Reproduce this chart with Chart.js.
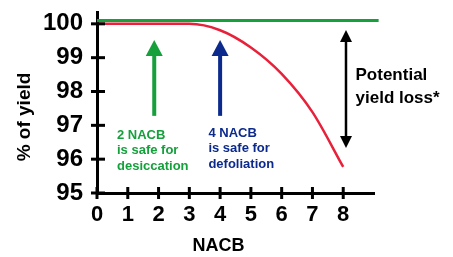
<!DOCTYPE html>
<html>
<head>
<meta charset="utf-8">
<script src="https://cdn.jsdelivr.net/npm/chart.js@4.4.1/dist/chart.umd.min.js"></script>
<style>
  html, body { margin: 0; padding: 0; background: #fff; }
  #wrap { width: 453px; height: 257px; }
</style>
</head>
<body>
<div id="wrap"><canvas id="yieldChart"></canvas></div>
<script>
// valores
const nacb = [0, 1, 2, 3, 4, 5, 6, 7, 8];
const redYield = [100, 100, 100, 100, 99.81, 99.3, 98.52, 97.39, 95.77];
const greenX = [0, 9.15];
const greenYield = [100.1, 100.1];

// flechas: posición x, desde, hasta
const arrowX = [1.86, 4, 8.09];
const arrowFrom = [97.28, 97.28, 96.33];
const arrowTo = [99.52, 99.52, 99.82];

const greenNote = ['2 NACB', 'is safe for', 'desiccation'];
const blueNote = ['4 NACB', 'is safe for', 'defoliation'];
const lossNote = ['Potential', 'yield loss*'];
const noteX = [0.65, 3.62, 8.4];
const noteY = [96.71, 96.77, 98.49];

const FONT = "'Liberation Sans', Arial, sans-serif";

const extras = {
    id: 'extras',
    afterDraw(chart) {
        const ctx = chart.ctx;
        const x = chart.scales.x, y = chart.scales.y;
        const area = chart.chartArea;
        ctx.save();

        // marcas de los ejes (cruzan la línea)
        ctx.strokeStyle = '#000';
        ctx.lineWidth = 3;
        y.ticks.forEach(t => {
            const py = y.getPixelForValue(t.value);
            ctx.beginPath();
            ctx.moveTo(area.left - 6, py);
            ctx.lineTo(area.left + 8, py);
            ctx.stroke();
        });
        x.ticks.forEach(t => {
            const px = x.getPixelForValue(t.value);
            ctx.beginPath();
            ctx.moveTo(px, area.bottom - 6);
            ctx.lineTo(px, area.bottom + 6);
            ctx.stroke();
        });

        // flechas
        const colors = ['#16a03c', '#0b2a8c', '#000'];
        const widths = [4, 4, 2.5];
        const heads = [[17, 16], [17, 16], [12, 12]];
        arrowX.forEach((v, i) => {
            const px = x.getPixelForValue(v);
            const p0 = y.getPixelForValue(arrowFrom[i]);
            const p1 = y.getPixelForValue(arrowTo[i]);
            const [hw, hh] = heads[i];
            ctx.strokeStyle = colors[i];
            ctx.fillStyle = colors[i];
            ctx.lineWidth = widths[i];
            const both = i === 2;
            ctx.beginPath();
            ctx.moveTo(px, both ? p0 - hh + 2 : p0);
            ctx.lineTo(px, p1 + hh - 2);
            ctx.stroke();
            ctx.beginPath();
            ctx.moveTo(px, p1);
            ctx.lineTo(px - hw / 2, p1 + hh);
            ctx.lineTo(px + hw / 2, p1 + hh);
            ctx.closePath();
            ctx.fill();
            if (both) {
                ctx.beginPath();
                ctx.moveTo(px, p0);
                ctx.lineTo(px - hw / 2, p0 - hh);
                ctx.lineTo(px + hw / 2, p0 - hh);
                ctx.closePath();
                ctx.fill();
            }
        });

        // textos
        ctx.textAlign = 'left';
        ctx.textBaseline = 'middle';
        const notes = [
            [greenNote, '#16a03c', 'bold 13px ' + FONT, 15.5],
            [blueNote, '#0b2a8c', 'bold 13px ' + FONT, 15.5],
            [lossNote, '#000', 'bold 17px ' + FONT, 23]
        ];
        notes.forEach(([lines, color, font, lh], i) => {
            ctx.fillStyle = color;
            ctx.font = font;
            const px = x.getPixelForValue(noteX[i]);
            const py = y.getPixelForValue(noteY[i]);
            lines.forEach((s, k) => ctx.fillText(s, px, py + k * lh));
        });

        // títulos de los ejes
        ctx.fillStyle = '#000';
        ctx.textAlign = 'center';
        ctx.font = 'bold 18px ' + FONT;
        ctx.fillText('NACB', x.getPixelForValue(3.95), 246);
        ctx.translate(25, 117);
        ctx.rotate(-Math.PI / 2);
        ctx.font = 'bold 19px ' + FONT;
        ctx.fillText('% of yield', 0, 0);
        ctx.restore();
    }
};

new Chart(document.getElementById('yieldChart'), {
    type: 'line',
    data: {
        datasets: [{
            data: greenX.map((v, i) => ({ x: v, y: greenYield[i] })),
            borderColor: '#16a03c',
            borderWidth: 3,
            pointRadius: 0,
            clip: false
        }, {
            data: nacb.map((v, i) => ({ x: v, y: redYield[i] })),
            borderColor: '#e8213a',
            borderWidth: 2.5,
            pointRadius: 0,
            cubicInterpolationMode: 'monotone'
        }]
    },
    options: {
        responsive: true,
        maintainAspectRatio: false,
        animation: false,
        layout: { padding: { top: 12, right: 79, left: 0, bottom: 0 } },
        plugins: {
            legend: { display: false },
            tooltip: { enabled: false }
        },
        scales: {
            x: {
                type: 'linear',
                min: 0,
                max: 9,
                afterBuildTicks: s => { s.ticks = s.ticks.filter(t => t.value <= 8); },
                afterFit: s => { s.height = 64; s.paddingLeft = 0; s.paddingRight = 0; },
                grid: { display: false, drawTicks: false },
                border: { display: true, color: '#000', width: 3 },
                ticks: {
                    stepSize: 1,
                    padding: 9,
                    color: '#000',
                    font: { family: FONT, size: 22, weight: 'bold' }
                }
            },
            y: {
                min: 95,
                max: 100.35,
                afterFit: s => { s.width = 97; s.paddingTop = 0; s.paddingBottom = 0; },
                grid: { display: false, drawTicks: false },
                border: { display: true, color: '#000', width: 3 },
                ticks: {
                    stepSize: 1,
                    includeBounds: false,
                    padding: 14,
                    color: '#000',
                    font: { family: FONT, size: 24, weight: 'bold' }
                }
            }
        }
    },
    plugins: [extras]
});
</script>
</body>
</html>
